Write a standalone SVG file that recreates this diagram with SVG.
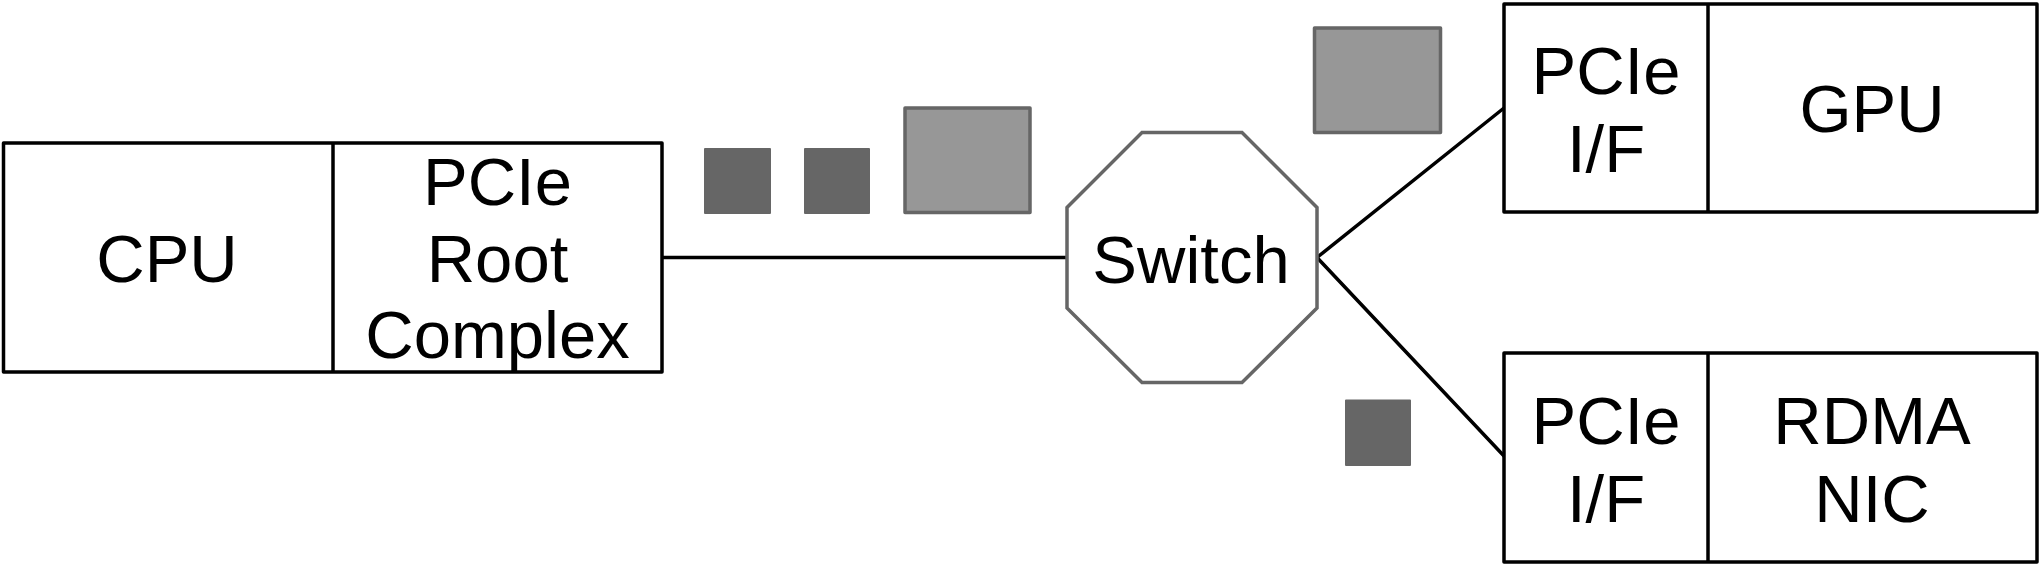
<svg xmlns="http://www.w3.org/2000/svg" width="2041" height="566" viewBox="0 0 2041 566">
<style>
.box{fill:#fff;stroke:#000;stroke-width:3.5;stroke-linejoin:round}
.div{stroke:#000;stroke-width:3.5}
.lbl{font-family:"Liberation Sans",Arial,Helvetica,sans-serif;font-size:67px;fill:#000;text-anchor:middle}
.conn{stroke:#000;stroke-width:3.5;fill:none;stroke-linecap:round}
.pkt-s{fill:#666;stroke:#666;stroke-width:2;stroke-linejoin:round}
.pkt-l{fill:#979797;stroke:#666;stroke-width:3.5;stroke-linejoin:round}
.sw{fill:#fff;stroke:#666;stroke-width:3.5}
</style>
<rect width="2041" height="566" fill="#fff"/>
<g id="connectors">
<line class="conn" x1="662" y1="257.5" x2="1067" y2="257.5"/>
<line class="conn" x1="1317" y1="257.5" x2="1504" y2="108"/>
<line class="conn" x1="1317" y1="257.5" x2="1504" y2="456"/>
</g>
<g id="cpu-node">
<rect class="box" x="3.5" y="143" width="658.5" height="229"/>
<line class="div" x1="333" y1="143" x2="333" y2="372"/>
<text class="lbl" x="167" y="282">CPU</text>
<text class="lbl" x="497.5" y="205">PCIe</text>
<text class="lbl" x="497.5" y="282">Root</text>
<text class="lbl" x="497.5" y="358">Complex</text>
</g>
<g id="switch-node">
<polygon class="sw" points="1142,132.5 1242,132.5 1317,207.5 1317,308 1242,382.5 1142,382.5 1067,308 1067,207.5"/>
<text class="lbl" x="1191" y="282.5">Switch</text>
</g>
<g id="gpu-node">
<rect class="box" x="1504" y="4" width="533" height="208"/>
<line class="div" x1="1708" y1="4" x2="1708" y2="212"/>
<text class="lbl" x="1606" y="94">PCIe</text>
<text class="lbl" x="1606" y="171.5">I/F</text>
<text class="lbl" x="1872" y="132">GPU</text>
</g>
<g id="nic-node">
<rect class="box" x="1504" y="353" width="533" height="209"/>
<line class="div" x1="1708" y1="353" x2="1708" y2="562"/>
<text class="lbl" x="1606" y="444">PCIe</text>
<text class="lbl" x="1606" y="521.5">I/F</text>
<text class="lbl" x="1872" y="444">RDMA</text>
<text class="lbl" x="1872" y="521.5">NIC</text>
</g>
<g id="packets">
<rect class="pkt-s" x="705" y="149" width="65" height="64"/>
<rect class="pkt-s" x="805" y="149" width="64" height="64"/>
<rect class="pkt-l" x="905" y="108" width="125" height="104.5"/>
<rect class="pkt-l" x="1314.5" y="28" width="126" height="104.5"/>
<rect class="pkt-s" x="1346" y="400.5" width="64" height="64.5"/>
</g>
</svg>
